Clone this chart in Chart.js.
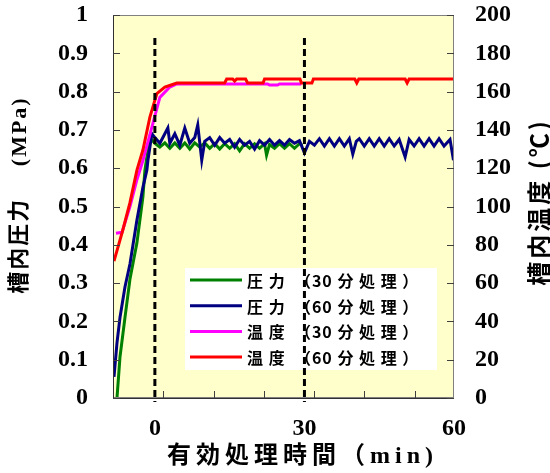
<!DOCTYPE html>
<html>
<head>
<meta charset="utf-8">
<script src="https://cdn.jsdelivr.net/npm/chart.js@4"></script>
<style>
  body { margin: 0; background: #fff; }
</style>
</head>
<body>
<canvas id="chart" width="550" height="473"></canvas>
<script>
// time axis (min), 0 = start of effective treatment
const xTickValues = [0, 30, 60];
const xMinorTicks = [1.7, 11.8, 21.8, 31.9, 42, 52.2];
const markerTimes = [0, 30];

const seriesLabels = [
  "圧 力  （30 分 処 理 ）",
  "圧 力  （60 分 処 理 ）",
  "温 度  （30 分 処 理 ）",
  "温 度  （60 分 処 理 ）"
];
const seriesColors = ["#008000", "#000080", "#ff00ff", "#ff0000"];

// 圧力 30分処理 (MPa)
const tPress30 = [-7.6, -7, -6, -5, -3.6, -2.4, -2, -1,
  0, 1, 2, 3, 4, 5, 6, 7, 8, 9, 10, 11, 12, 13, 14, 15, 16, 17, 18, 19, 20, 21, 22, 22.4,
  23, 24, 25, 26, 27, 28, 29, 29.6];
const press30 = [0, 0.107, 0.21, 0.31, 0.405, 0.525, 0.595, 0.68,
  0.665, 0.655, 0.666, 0.652, 0.666, 0.652, 0.666, 0.65, 0.666, 0.655, 0.666, 0.652, 0.664, 0.65,
  0.664, 0.652, 0.664, 0.645, 0.664, 0.652, 0.664, 0.652, 0.664, 0.634,
  0.662, 0.652, 0.664, 0.652, 0.664, 0.652, 0.664, 0.66];

// 圧力 60分処理 (MPa)
const tPress60 = [-8.2, -7.6, -7, -6, -5, -3.6, -2.4, -1.6, -1.4, -0.6,
  0, 1, 2, 2.6, 3, 4, 5, 6, 7, 8, 8.6, 9.4, 10, 11, 12, 13, 14, 15, 16, 17, 18, 19, 20,
  21, 22, 23, 24, 25, 26, 27, 28, 29, 30, 31, 32, 33, 34, 35, 36, 37, 38, 39, 39.7, 40.4,
  41, 42, 43, 44, 45, 46, 47, 48, 49, 50.2, 51, 52, 53, 54, 55, 56, 57, 58, 59.2, 59.9];
const press60 = [0.055, 0.144, 0.21, 0.29, 0.35, 0.465, 0.55, 0.595, 0.62, 0.69,
  0.68, 0.665, 0.69, 0.705, 0.665, 0.69, 0.66, 0.705, 0.665, 0.68, 0.713, 0.621, 0.67, 0.68,
  0.66, 0.68, 0.665, 0.675, 0.655, 0.675, 0.66, 0.67, 0.65,
  0.672, 0.66, 0.675, 0.66, 0.672, 0.66, 0.675, 0.665, 0.672, 0.64, 0.67, 0.66, 0.677, 0.658,
  0.677, 0.658, 0.677, 0.658, 0.677, 0.637, 0.67,
  0.677, 0.658, 0.677, 0.658, 0.677, 0.658, 0.677, 0.658, 0.675, 0.629, 0.675, 0.658, 0.677,
  0.658, 0.677, 0.658, 0.677, 0.658, 0.675, 0.621];

// 温度 30分処理 (℃)
const tTemp30 = [-7.8, -6.6, -5, -3.6, -2.4, -0.6, 1, 3, 4.4, 22.6, 23, 24.6, 25, 29.4];
const temp30 = [86, 86.5, 100, 114, 124, 141.5, 157, 162.4, 164, 164, 163.4, 163.4, 164, 164];

// 温度 60分処理 (℃)
const tTemp60 = [-8.2, -7.6, -6.4, -5, -3.6, -2.4, -1, 0.4, 2, 4.4, 14, 14.4, 15.6, 16, 16.4,
  18.2, 18.6, 21.7, 22, 29.1, 29.4, 31.5, 31.8, 40.1, 40.5, 40.9, 50.2, 50.6, 51, 60];
const temp60 = [71.5, 77, 88, 102, 119, 129.5, 146.7, 159, 162.4, 164.5, 164.5, 166.6, 166.6,
  165.5, 166.6, 166.6, 164.5, 164.5, 166.6, 166.6, 164.5, 164.5, 166.6, 166.6, 164.5, 166.6,
  166.6, 164.5, 166.6, 166.6];

function pts(ts, vs) {
  return ts.map((t, i) => ({ x: t, y: vs[i] }));
}

const decor = {
  id: "decor",
  beforeDraw(chart) {
    const { ctx, chartArea: a } = chart;
    ctx.save();
    ctx.fillStyle = "#ffffcc";
    ctx.fillRect(a.left, a.top, a.right - a.left, a.bottom - a.top);
    ctx.restore();
  },
  afterDatasetsDraw(chart) {
    const { ctx, chartArea: a, scales } = chart;
    ctx.save();
    // frame
    ctx.strokeStyle = "#808080";
    ctx.lineWidth = 1;
    ctx.strokeRect(a.left + 0.5, a.top + 0.5, a.right - a.left - 1, a.bottom - a.top - 1);
    ctx.strokeStyle = "#303030";
    ctx.beginPath();
    ctx.moveTo(a.left + 0.5, a.top);
    ctx.lineTo(a.left + 0.5, a.bottom + 0.5);
    ctx.lineTo(a.right, a.bottom + 0.5);
    ctx.stroke();
    // inward tick marks
    ctx.strokeStyle = "#404040";
    ctx.beginPath();
    scales.y.ticks.forEach(t => {
      const py = Math.round(scales.y.getPixelForValue(t.value)) + 0.5;
      ctx.moveTo(a.left, py); ctx.lineTo(a.left + 7, py);
    });
    scales.y2.ticks.forEach(t => {
      const py = Math.round(scales.y2.getPixelForValue(t.value)) + 0.5;
      ctx.moveTo(a.right - 7, py); ctx.lineTo(a.right, py);
    });
    xMinorTicks.forEach(v => {
      const px = Math.round(scales.x.getPixelForValue(v)) + 0.5;
      ctx.moveTo(px, a.bottom - 7); ctx.lineTo(px, a.bottom);
    });
    ctx.stroke();

    // legend box
    const lx = 185, ly = 268, lw = 252, lh = 102;
    ctx.fillStyle = "#ffffff";
    ctx.fillRect(lx, ly, lw, lh);
    ctx.font = "bold 16px 'Noto Sans CJK JP'";
    ctx.letterSpacing = "1px";
    ctx.textBaseline = "middle";
    ctx.textAlign = "left";
    chart.data.datasets.forEach((ds, i) => {
      const ry = ly + 12 + i * 25.7;
      ctx.strokeStyle = ds.borderColor;
      ctx.lineWidth = 3;
      ctx.beginPath();
      ctx.moveTo(lx + 5, ry); ctx.lineTo(lx + 57, ry);
      ctx.stroke();
      ctx.fillStyle = "#000";
      ctx.fillText(ds.label, lx + 62, ry + 1);
    });

    // dashed markers
    ctx.letterSpacing = "0px";
    ctx.strokeStyle = "#000";
    ctx.lineWidth = 3;
    ctx.setLineDash([7, 4]);
    ctx.beginPath();
    markerTimes.forEach(v => {
      const px = scales.x.getPixelForValue(v);
      ctx.moveTo(px, scales.y.getPixelForValue(0.94));
      ctx.lineTo(px, a.bottom + 4);
    });
    ctx.stroke();
    ctx.restore();
  },
  afterDraw(chart) {
    const { ctx } = chart;
    ctx.save();
    ctx.fillStyle = "#000";
    ctx.textAlign = "center";
    ctx.textBaseline = "middle";

    ctx.save();
    ctx.translate(20, 195);
    ctx.rotate(-Math.PI / 2);
    ctx.font = "bold 22px 'Liberation Serif', 'Noto Sans CJK JP'";
    ctx.letterSpacing = "2px";
    ctx.fillText("槽内圧力　 (MPa)", 0, 0);
    ctx.restore();

    ctx.save();
    ctx.translate(539, 202);
    ctx.rotate(-Math.PI / 2);
    ctx.font = "bold 24px 'Noto Sans CJK JP'";
    ctx.letterSpacing = "3px";
    ctx.fillText("槽内温度 (℃)", 0, 0);
    ctx.restore();

    ctx.textAlign = "left";
    ctx.font = "bold 24px 'Liberation Serif', 'Noto Sans CJK JP'";
    ctx.letterSpacing = "5px";
    ctx.fillText("有効処理時間（min)", 167, 457);
    ctx.restore();
  }
};

const tickFont = { family: "'Liberation Serif', 'Times New Roman', serif", size: 24, weight: "bold" };
const noPad = s => { s.paddingTop = 0; s.paddingBottom = 0; };

new Chart("chart", {
  type: "line",
  data: {
    datasets: [{
      label: seriesLabels[0],
      data: pts(tPress30, press30),
      borderColor: seriesColors[0],
      yAxisID: "y",
      order: 4
    }, {
      label: seriesLabels[1],
      data: pts(tPress60, press60),
      borderColor: seriesColors[1],
      yAxisID: "y",
      order: 3
    }, {
      label: seriesLabels[2],
      data: pts(tTemp30, temp30),
      borderColor: seriesColors[2],
      yAxisID: "y2",
      order: 2
    }, {
      label: seriesLabels[3],
      data: pts(tTemp60, temp60),
      borderColor: seriesColors[3],
      yAxisID: "y2",
      order: 1
    }]
  },
  options: {
    responsive: false,
    animation: false,
    layout: { padding: { top: 15, left: 0, right: 0, bottom: 0 } },
    elements: {
      line: { borderWidth: 3, tension: 0, fill: false },
      point: { radius: 0 }
    },
    plugins: {
      legend: { display: false },
      tooltip: { enabled: false }
    },
    scales: {
      x: {
        type: "linear",
        min: -8.4,
        max: 60,
        grid: { display: false, drawTicks: false },
        border: { display: false },
        afterBuildTicks: s => { s.ticks = xTickValues.map(v => ({ value: v })); },
        afterFit: s => { s.height = 75; s.paddingLeft = 0; s.paddingRight = 0; },
        ticks: { color: "#000", font: tickFont, padding: 16, maxRotation: 0 }
      },
      y: {
        position: "left",
        min: 0,
        max: 1,
        grid: { display: false, drawTicks: false },
        border: { display: false },
        afterFit: s => { s.width = 113; noPad(s); },
        ticks: {
          stepSize: 0.1, color: "#000", font: tickFont, padding: 25,
          callback: v => String(Math.round(v * 10) / 10)
        }
      },
      y2: {
        position: "right",
        min: 0,
        max: 200,
        grid: { display: false, drawTicks: false },
        border: { display: false },
        afterFit: s => { s.width = 96; noPad(s); },
        ticks: { stepSize: 20, color: "#000", font: tickFont, padding: 21 }
      }
    }
  },
  plugins: [decor]
});
</script>
</body>
</html>
